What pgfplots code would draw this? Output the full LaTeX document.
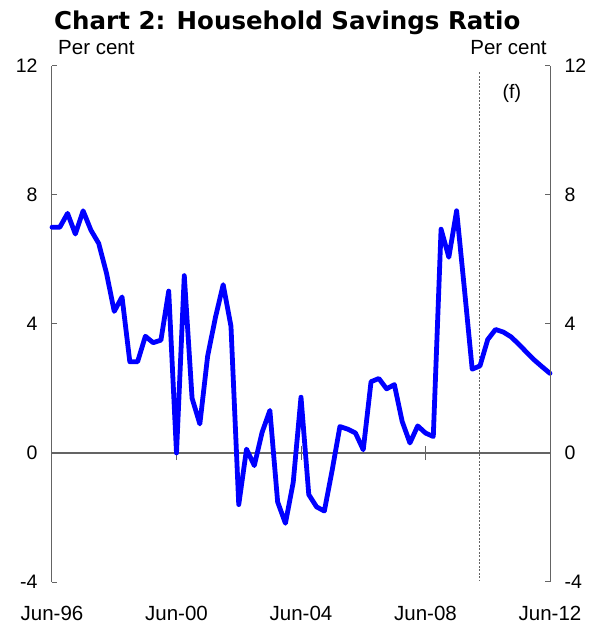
\documentclass[border=0pt]{standalone}
\usepackage{pgfplots}
\pgfplotsset{compat=1.18}
\usepackage{fontspec}
\setmainfont{Liberation Sans}
\newfontfamily\titlefont{DejaVu Sans}
\definecolor{axgray}{RGB}{100,100,100}
\pgfplotstableread{
i v
0 7.0
1 7.0
2 7.43
3 6.79
4 7.51
5 6.91
6 6.5
7 5.58
8 4.39
9 4.84
10 2.83
11 2.83
12 3.62
13 3.42
14 3.5
15 5.02
16 0.0
17 5.5
18 1.7
19 0.9
20 3.0
21 4.2
22 5.22
23 3.93
24 -1.6
25 0.12
26 -0.39
27 0.64
28 1.32
29 -1.52
30 -2.18
31 -0.91
32 1.73
33 -1.29
34 -1.67
35 -1.8
36 -0.54
37 0.82
38 0.74
39 0.62
40 0.1
41 2.21
42 2.31
43 1.99
44 2.12
45 0.98
46 0.31
47 0.84
48 0.62
49 0.51
50 6.94
51 6.07
52 7.51
53 5.09
54 2.6
55 2.7
56 3.52
57 3.83
58 3.75
59 3.6
60 3.37
61 3.12
62 2.88
63 2.67
64 2.47
}\savings
\begin{document}
\begin{tikzpicture}
\pgfplotsset{common/.style={
  scale only axis, width=498pt, height=516pt,
  xmin=0, xmax=64, ymin=-4, ymax=12,
  ytick={-4,0,4,8,12}, yticklabels={-4,0,4,8,12},
  tick align=inside, major tick length=5pt,
  every tick/.style={axgray, line width=1pt},
  ticklabel style={font=\fontsize{19.5}{22}\selectfont},
  clip=false,
}}
\begin{axis}[common,
  axis x line*=bottom, axis y line*=left,
  x axis line style={draw=none},
  y axis line style={axgray, line width=1pt},
  xtick={0,16,32,48,64},
  xticklabels={Jun-96,Jun-00,Jun-04,Jun-08,Jun-12},
  xtick style={draw=none},
  xticklabel style={yshift=-21pt, font=\fontsize{20.5}{23}\selectfont},
  yticklabel style={xshift=-11pt},
]
\draw[axgray, line width=1.2pt] (axis cs:0,0) -- (axis cs:64,0);
\draw[axgray, line width=1pt] (axis cs:16,-0.22) -- (axis cs:16,0.22);
\draw[axgray, line width=1pt] (axis cs:32,-0.22) -- (axis cs:32,0.22);
\draw[axgray, line width=1pt] (axis cs:48,-0.22) -- (axis cs:48,0.22);
\draw[axgray, line width=0.6pt, dash pattern=on 2pt off 1.5pt] (axis cs:54.9,11.8) -- (axis cs:54.9,-3.94);
\addplot[blue, line width=4.8pt, line join=round, line cap=round] table[x=i,y=v] {\savings};
\node[anchor=center, font=\fontsize{19.5}{22}\selectfont, inner sep=0pt] at (axis cs:59.1,11.14) {(f)};
\node[anchor=base west, font=\fontsize{20.5}{23}\selectfont, inner sep=0pt] at (axis cs:0.77,12.35) {Per cent};
\node[anchor=base east, font=\fontsize{20.5}{23}\selectfont, inner sep=0pt] at (axis cs:63.6,12.35) {Per cent};
\node[anchor=base west, font=\titlefont\bfseries\fontsize{24.5}{28}\selectfont, inner sep=0pt] at (axis cs:0.26,13.12) {Chart 2: Household Savings Ratio};
\path[use as bounding box] (rel axis cs:0,0) ++(-52pt,-44pt) rectangle ++(600pt,626pt);
\end{axis}
\begin{axis}[common,
  axis x line=none, axis y line*=right,
  y axis line style={axgray, line width=1pt},
  yticklabel style={xshift=11pt},
]
\end{axis}
\end{tikzpicture}
\end{document}
